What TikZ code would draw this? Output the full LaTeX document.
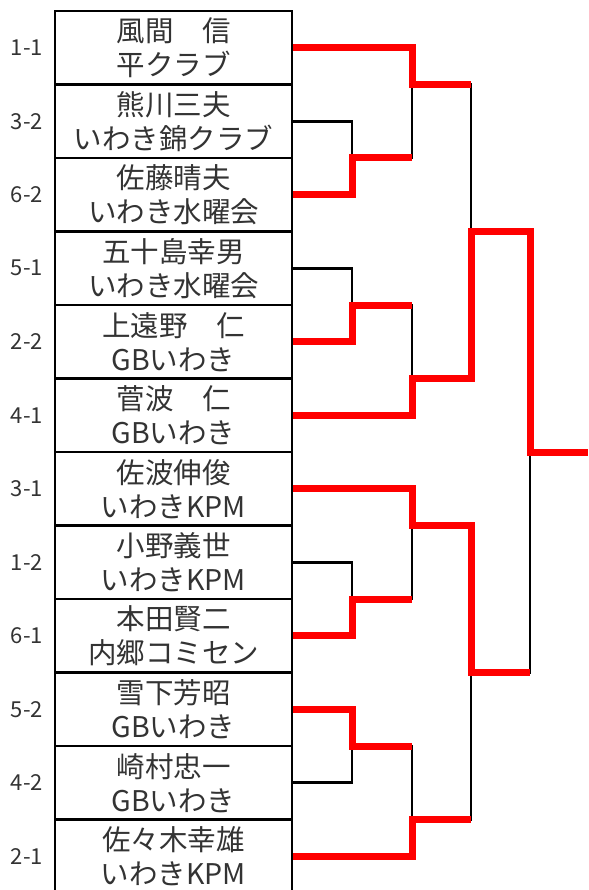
\documentclass[tikz,border=0pt]{standalone}
\usepackage{fontspec}
\newfontfamily\jp{Noto Sans CJK JP}
\definecolor{txt}{HTML}{333333}
\begin{document}
\begin{tikzpicture}[x=1pt,y=-1pt,
  player/.style={draw,line width=2.7pt,minimum width=237pt,minimum height=73.5pt,
    inner sep=0pt,align=center,text=txt,font=\jp\fontsize{28.5}{34}\selectfont},
  seed/.style={text=txt,font=\jp\fontsize{22}{23}\selectfont},
  lose/.style={line width=2.7pt,black},
  win/.style={line width=7pt,red,line join=miter}]
\useasboundingbox (0,0) rectangle (588,890);
\node[player] (p1)at(173.5,47.75){風間　信\\平クラブ};
\node[player] (p2)at(173.5,121.25){熊川三夫\\いわき錦クラブ};
\node[player] (p3)at(173.5,194.75){佐藤晴夫\\いわき水曜会};
\node[player] (p4)at(173.5,268.25){五十島幸男\\いわき水曜会};
\node[player] (p5)at(173.5,341.75){上遠野　仁\\GBいわき};
\node[player] (p6)at(173.5,415.25){菅波　仁\\GBいわき};
\node[player] (p7)at(173.5,488.75){佐波伸俊\\いわきKPM};
\node[player] (p8)at(173.5,562.25){小野義世\\いわきKPM};
\node[player] (p9)at(173.5,635.75){本田賢二\\内郷コミセン};
\node[player] (p10)at(173.5,709.25){雪下芳昭\\GBいわき};
\node[player] (p11)at(173.5,782.75){崎村忠一\\GBいわき};
\node[player] (p12)at(173.5,856.25){佐々木幸雄\\いわきKPM};
\node[seed] (n1)at(27,47.75){1-1};
\node[seed] (n2)at(27,121.25){3-2};
\node[seed] (n3)at(27,194.75){6-2};
\node[seed] (n4)at(27,268.25){5-1};
\node[seed] (n5)at(27,341.75){2-2};
\node[seed] (n6)at(27,415.25){4-1};
\node[seed] (n7)at(27,488.75){3-1};
\node[seed] (n8)at(27,562.25){1-2};
\node[seed] (n9)at(27,635.75){6-1};
\node[seed] (n10)at(27,709.25){5-2};
\node[seed] (n11)at(27,782.75){4-2};
\node[seed] (n12)at(27,856.25){2-1};
\coordinate (a1)at(352,158);
\coordinate (a2)at(352,305);
\coordinate (a3)at(352,599);
\coordinate (a4)at(352,746);
\coordinate (q1)at(412,84.5);
\coordinate (q2)at(412,378.5);
\coordinate (q3)at(412,525.5);
\coordinate (q4)at(412,819.5);
\coordinate (s1)at(471,231.5);
\coordinate (s2)at(471,672.5);
\coordinate (f)at(530,452);
\coordinate (e)at(588,452);
\draw[lose] (p2.east) -| (a1);
\draw[lose] (p3.east) -| (a1);
\draw[lose] (p4.east) -| (a2);
\draw[lose] (p5.east) -| (a2);
\draw[lose] (p8.east) -| (a3);
\draw[lose] (p9.east) -| (a3);
\draw[lose] (p10.east) -| (a4);
\draw[lose] (p11.east) -| (a4);
\draw[lose] (p1.east) -| (q1);
\draw[lose] (a1) -| (q1);
\draw[lose] (a2) -| (q2);
\draw[lose] (p6.east) -| (q2);
\draw[lose] (p7.east) -| (q3);
\draw[lose] (a3) -| (q3);
\draw[lose] (a4) -| (q4);
\draw[lose] (p12.east) -| (q4);
\draw[lose] (q1) -| (s1);
\draw[lose] (q2) -| (s1);
\draw[lose] (q3) -| (s2);
\draw[lose] (q4) -| (s2);
\draw[lose] (s1) -| (f);
\draw[lose] (s2) -| (f);
\draw[win] (p1.east) -| (q1) -- (q1 -| s1);
\draw[win] (p3.east) -| (a1) -- (a1 -| q1);
\draw[win] (p5.east) -| (a2) -- (a2 -| q2);
\draw[win] (p6.east) -| (q2) -| (s1) -| (f) -- (e);
\draw[win] (p7.east) -| (q3) -| (s2) -- (s2 -| f);
\draw[win] (p9.east) -| (a3) -- (a3 -| q3);
\draw[win] (p10.east) -| (a4) -- (a4 -| q4);
\draw[win] (p12.east) -| (q4) -- (q4 -| s2);
\end{tikzpicture}
\end{document}
